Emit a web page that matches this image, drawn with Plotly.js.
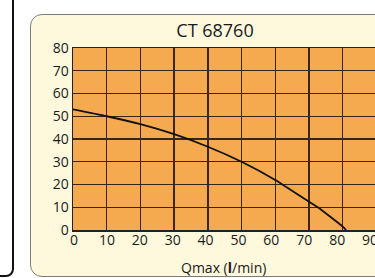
<!DOCTYPE html>
<html>
<head>
<meta charset="utf-8">
<script src="https://cdn.plot.ly/plotly-3.0.1.min.js"></script>
<style>
  html, body { margin:0; padding:0; width:375px; height:278px; overflow:hidden; background:#ffffff; }
  #left { position:absolute; left:-30px; top:-12px; width:40px; height:285px; border:2px solid #111; border-radius:8px; }
  #panel { position:absolute; left:30px; top:14px; width:400px; height:261px; background:#fef9dd; border:1.5px solid #7d7d7d; border-radius:12px; }
  #chart { position:absolute; left:0; top:0; width:400px; height:278px; }
</style>
</head>
<body>
<div id="left"></div>
<div id="panel"></div>
<div id="chart"></div>
<script>
const chartTitle = "CT 68760";
const xTitle = "Qmax (<b>l</b>/min)";
const flow = [0, 10, 20, 30, 40, 50, 60, 70, 72.6, 80, 81];
const head = [53, 50, 46.5, 42.1, 36.6, 30, 22, 12.4, 10, 1.5, 0];
const xTicks = [0, 10, 20, 30, 40, 50, 60, 70, 80, 90];
const yTicks = [0, 10, 20, 30, 40, 50, 60, 70, 80];

const font = "Open Sans, Noto Sans, sans-serif";
const trace = {
  x: flow, y: head, type: "scatter", mode: "lines", xaxis: "x", yaxis: "y",
  line: { color: "#111111", width: 1.8, shape: "spline", smoothing: 0.6 },
  hoverinfo: "skip", showlegend: false
};
const tickFont = { family: font, size: 14, color: "#1a1a1a" };
const axisCommon = {
  showgrid: true, gridcolor: "#3a2612", gridwidth: 1.3,
  showline: true, linecolor: "#222222", linewidth: 1.5, mirror: true,
  zeroline: false, ticks: "", tickfont: tickFont
};
const layout = {
  width: 400, height: 278,
  margin: { l: 73, r: 0, t: 48, b: 48, pad: 0 },
  paper_bgcolor: "rgba(0,0,0,0)",
  plot_bgcolor: "#f5aa50",
  font: { family: font, color: "#1a1a1a" },
  title: { text: chartTitle, font: { family: font, size: 18, color: "#1a1a1a" },
           x: 215 / 400, xanchor: "center", xref: "container",
           y: 1 - 31 / 278, yanchor: "middle", yref: "container" },
  xaxis: Object.assign({}, axisCommon, { range: [0, 97], tickvals: xTicks, showticklabels: false }),
  xaxis2: { overlaying: "x", anchor: "y", side: "bottom", range: [-0.3, 99.1], tickvals: xTicks,
            showgrid: false, showline: false, zeroline: false, ticks: "", tickfont: tickFont },
  yaxis: Object.assign({}, axisCommon, { range: [0, 80], tickvals: yTicks }),
  annotations: [{
    text: xTitle, xref: "paper", yref: "paper",
    x: (223 - 73) / 327, y: -37 / 182, xanchor: "center", yanchor: "middle",
    showarrow: false, font: { family: font, size: 14, color: "#1a1a1a" }
  }]
};
const labelTrace = { x: [0], y: [null], xaxis: "x2", yaxis: "y", type: "scatter", mode: "markers",
                     hoverinfo: "skip", showlegend: false };
Plotly.newPlot("chart", [trace, labelTrace], layout, { staticPlot: true, displayModeBar: false });
</script>
</body>
</html>
